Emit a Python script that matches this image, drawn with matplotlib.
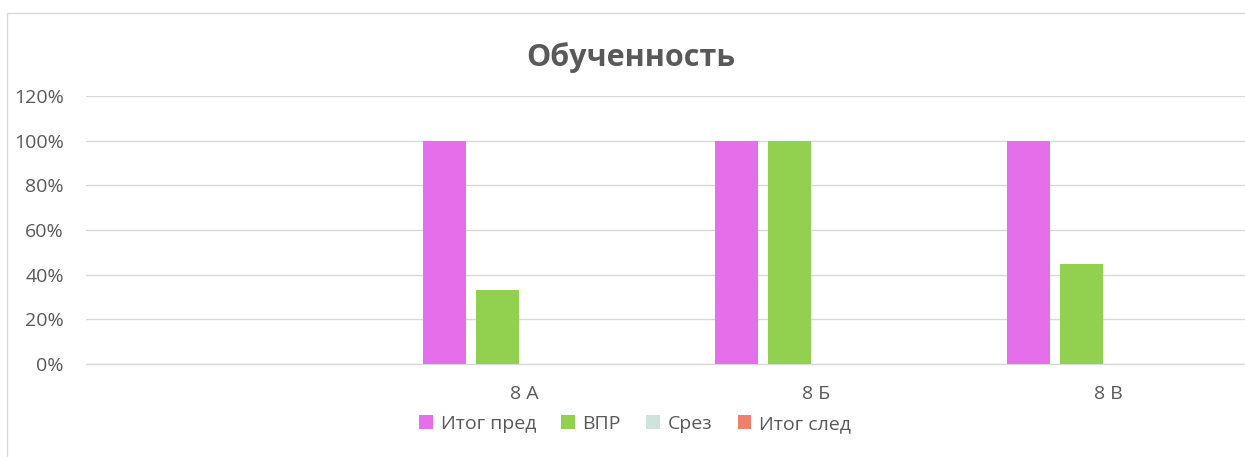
import matplotlib
matplotlib.use("Agg")
import matplotlib.pyplot as plt
import numpy as np
from matplotlib.patches import Rectangle

# data
categories = ["", "8 А", "8 Б", "8 В"]
series_names = ["Итог пред", "ВПР", "Срез", "Итог след"]
itog_pred = [0.0, 1.00, 1.00, 1.00]
vpr = [0.0, 0.33, 1.00, 0.45]
srez = [0.0, 0.0, 0.0, 0.0]
itog_sled = [0.0, 0.0, 0.0, 0.0]
colors = ["#E56EEB", "#92D050", "#CFE3DA", "#F07F6E"]

plt.rcParams['font.family'] = ['Open Sans', 'DejaVu Sans']

W, H = 1245, 457
fig = plt.figure(figsize=(W / 100, H / 100), dpi=100)

# chart border (cut off at right and bottom like the reference)
fig.patches.append(Rectangle((7 / W, -0.1), 2, 1 - 13 / H + 0.1,
                             transform=fig.transFigure, fill=False,
                             edgecolor="#D9D9D9", linewidth=1.0))

# plot area: left 86px, spans 4 categories of ~292px each (past the right edge)
left, right = 86, 86 + 4 * 292
top, bottom = 96, 364
ax = fig.add_axes([left / W, 1 - bottom / H, (right - left) / W, (bottom - top) / H])

x = np.arange(len(categories))
width = 0.144
pitch = 0.1815
all_series = [itog_pred, vpr, srez, itog_sled]
for i, (name, vals) in enumerate(zip(series_names, all_series)):
    ax.bar(x + (i - 1.5) * pitch, vals, width, color=colors[i], label=name, zorder=3)

ax.set_xlim(-0.5, len(categories) - 0.5)
ax.set_ylim(0, 1.2)
ax.set_yticks(np.arange(0, 1.21, 0.2))
ax.set_yticklabels(["{:d}%".format(int(round(v * 100))) for v in np.arange(0, 1.21, 0.2)])
ax.set_xticks(x)
ax.set_xticklabels(categories)
ax.tick_params(axis="both", length=0, labelsize=14, colors="#595959")
ax.tick_params(axis="x", pad=15)
ax.tick_params(axis="y", pad=16)
ax.grid(axis="y", color="#D9D9D9", linewidth=1.0, zorder=0)
for s in ["top", "right", "left"]:
    ax.spines[s].set_visible(False)
ax.spines["bottom"].set_color("#D9D9D9")
ax.spines["bottom"].set_linewidth(1.0)

fig.text(631 / W, 1 - 58 / H, "Обученность", ha="center", va="center",
         fontsize=22, fontweight="bold", color="#595959")

handles, labels = ax.get_legend_handles_labels()
fig.legend(handles, labels, loc="center", bbox_to_anchor=(635 / W, 1 - 424 / H),
           ncol=4, frameon=False, fontsize=14, labelcolor="#595959",
           handlelength=0.7, handleheight=0.7, handletextpad=0.4, columnspacing=1.3)

fig.savefig("out.png", dpi=100)
